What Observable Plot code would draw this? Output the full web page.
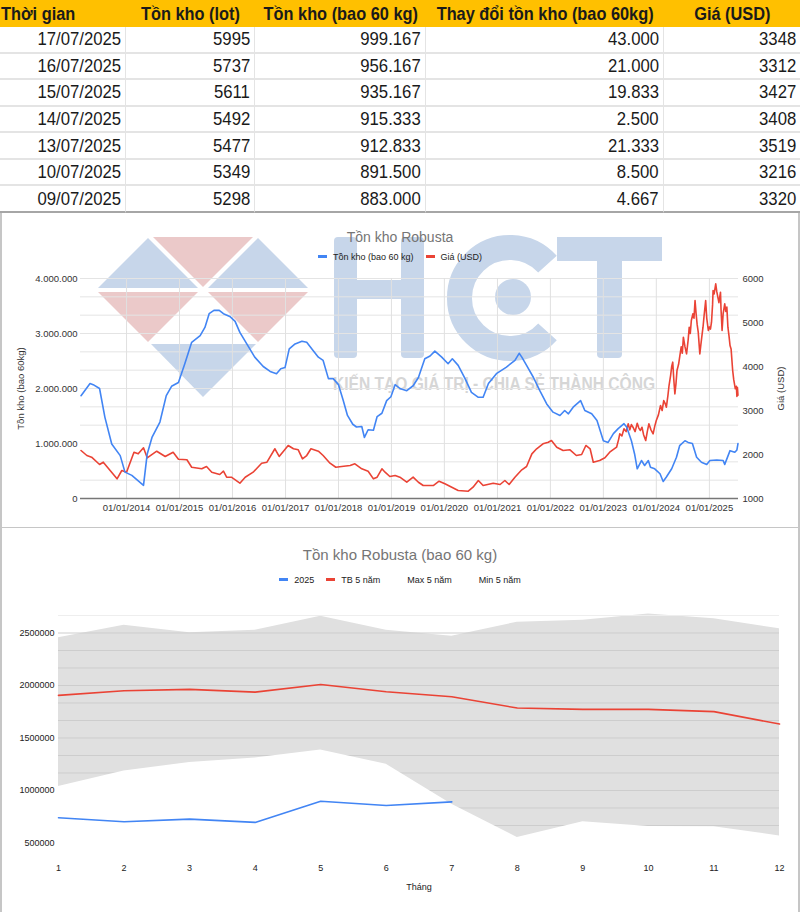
<!DOCTYPE html>
<html lang="vi">
<head>
<meta charset="utf-8">
<script src="https://cdn.jsdelivr.net/npm/d3@7"></script>
<script src="https://cdn.jsdelivr.net/npm/@observablehq/plot@0.6"></script>
<style>
html,body{margin:0;padding:0;background:#fff;}
body{width:800px;height:912px;overflow:hidden;font-family:"Liberation Sans",Arial,sans-serif;}
#tbl{display:grid;grid-template-columns:126px 129px 171px 238px 136px;grid-template-rows:27px repeat(7,26.57px);width:800px;font-family:"Liberation Sans",Arial,sans-serif;font-size:19px;color:#1a1a1a;}
#tbl .th{background:#ffc000;font-weight:bold;display:flex;align-items:center;justify-content:center;white-space:nowrap;overflow:visible;}
#tbl .th span{display:inline-block;transform:scaleX(0.86);transform-origin:center center;}
#tbl .th.first{justify-content:flex-start;padding-left:1px;}
#tbl .th.first span{transform-origin:left center;}
#tbl .td{display:flex;align-items:center;justify-content:flex-end;padding-right:4px;white-space:nowrap;box-sizing:border-box;border-bottom:2px solid #e4e4e4;border-right:1px solid #e4e4e4;}
#tbl .td span{display:inline-block;transform:scaleX(0.88);transform-origin:right center;}
#tbl .td.last{border-bottom:2px solid #a6a6a6;}
.box{position:relative;width:800px;box-shadow:inset 2px 0 0 #c6c6c6, inset -2px 0 0 #c6c6c6;}
#mid{height:315px;box-shadow:inset 2px 0 0 #c6c6c6, inset -2px 0 0 #c6c6c6, inset 0 -1px 0 #c6c6c6;}
#bot{height:384px;}
.ttl{position:absolute;left:0;width:800px;text-align:center;color:#757575;}
.lg{position:absolute;left:0;width:800px;display:flex;justify-content:center;align-items:center;font-size:9px;line-height:12px;color:#222;}
.lg .it{display:flex;align-items:center;margin:0 6px;}
.lg .sw{display:inline-block;width:9px;height:3px;margin-right:6px;}
.layer{position:absolute;left:0;}
</style>
</head>
<body>
<div id="tbl"></div>
<div id="mid" class="box">
  <svg class="layer" id="wm" width="800" height="315" style="top:0"></svg>
  <div class="ttl" style="top:16px;font-size:14px;line-height:16px;">Tồn kho Robusta</div>
  <div class="lg" id="lg1" style="top:38px;"></div>
  <div class="layer" id="plot1" style="top:55px;"></div>
</div>
<div id="bot" class="box">
  <div class="ttl" style="top:18px;font-size:15px;line-height:18px;">Tồn kho Robusta (bao 60 kg)</div>
  <div class="lg" id="lg2" style="top:46px;"></div>
  <div class="layer" id="plot2" style="top:67px;"></div>
</div>
<script>
// ---------- TABLE DATA ----------
const headers = ["Thời gian", "Tồn kho (lot)", "Tồn kho (bao 60 kg)", "Thay đổi tồn kho (bao 60kg)", "Giá (USD)"];
const dates = ["17/07/2025", "16/07/2025", "15/07/2025", "14/07/2025", "13/07/2025", "10/07/2025", "09/07/2025"];
const lots = [5995, 5737, 5611, 5492, 5477, 5349, 5298];
const bags = [999167, 956167, 935167, 915333, 912833, 891500, 883000];
const changes = [43000, 21000, 19833, 2500, 21333, 8500, 4667];
const prices = [3348, 3312, 3427, 3408, 3519, 3216, 3320];

// ---------- CHART 1 DATA (Tồn kho Robusta) ----------
const invYears = [2013.14,2013.31,2013.37,2013.49,2013.59,2013.72,2013.88,2013.97,2014.10,2014.32,2014.39,2014.48,2014.63,2014.75,2014.85,2014.98,
2015.10,2015.23,2015.39,2015.48,2015.56,2015.65,2015.75,2015.83,2015.95,2016.05,2016.14,2016.27,2016.42,2016.58,2016.71,2016.83,2016.91,2016.99,
2017.07,2017.18,2017.31,2017.40,2017.52,2017.62,2017.71,2017.81,2017.90,2018.00,2018.09,2018.17,2018.27,2018.34,2018.44,2018.49,2018.56,2018.66,
2018.73,2018.82,2018.91,2018.99,2019.07,2019.16,2019.29,2019.41,2019.51,2019.63,2019.73,2019.82,2019.95,2020.07,2020.15,2020.26,2020.39,2020.51,
2020.64,2020.73,2020.83,2020.98,2021.17,2021.33,2021.41,2021.46,2021.55,2021.68,2021.80,2021.93,2022.05,2022.18,2022.27,2022.34,2022.43,2022.57,
2022.65,2022.78,2022.88,2023.00,2023.09,2023.19,2023.28,2023.39,2023.44,2023.53,2023.59,2023.64,2023.72,2023.78,2023.85,2023.89,2023.97,2024.07,
2024.13,2024.19,2024.29,2024.38,2024.44,2024.54,2024.60,2024.68,2024.76,2024.85,2024.95,2025.01,2025.14,2025.26,2025.29,2025.39,2025.48,2025.52,2025.54];
const invValues = [1870000,2090000,2070000,2000000,1480000,990000,780000,480000,420000,240000,810000,1110000,1390000,1870000,2040000,2110000,
2450000,2840000,2960000,3110000,3360000,3420000,3420000,3360000,3310000,3220000,3020000,2810000,2570000,2400000,2310000,2270000,2360000,2380000,
2720000,2810000,2860000,2840000,2690000,2570000,2510000,2180000,2180000,2070000,1780000,1510000,1350000,1300000,1310000,1110000,1250000,1240000,
1490000,1550000,1780000,1850000,2070000,2000000,1960000,2050000,2200000,2540000,2590000,2680000,2570000,2450000,2540000,2420000,2180000,1930000,
1840000,1840000,2090000,2270000,2390000,2510000,2640000,2570000,2420000,2200000,1960000,1720000,1570000,1510000,1600000,1540000,1660000,1780000,
1600000,1540000,1420000,1050000,1020000,1180000,1270000,1360000,1300000,1050000,810000,540000,690000,600000,690000,570000,540000,450000,
310000,390000,540000,750000,960000,1050000,1020000,1000000,750000,660000,620000,690000,700000,690000,620000,870000,840000,883000,999167];

const priceYears = [2013.14,2013.25,2013.34,2013.49,2013.56,2013.69,2013.82,2013.91,2014.00,2014.14,2014.22,2014.32,2014.39,2014.57,2014.73,2014.88,2014.98,
2015.14,2015.23,2015.42,2015.51,2015.61,2015.76,2015.83,2015.89,2015.98,2016.14,2016.24,2016.39,2016.55,2016.65,2016.80,2016.88,2017.05,2017.15,2017.24,
2017.32,2017.40,2017.48,2017.62,2017.71,2017.84,2017.95,2018.06,2018.22,2018.31,2018.44,2018.56,2018.66,2018.73,2018.82,2018.88,2018.97,2019.07,2019.16,
2019.29,2019.41,2019.51,2019.60,2019.79,2019.90,2020.01,2020.14,2020.26,2020.45,2020.54,2020.64,2020.73,2020.92,2021.05,2021.14,2021.22,2021.33,2021.46,
2021.55,2021.65,2021.74,2021.86,2021.96,2022.02,2022.12,2022.24,2022.37,2022.49,2022.59,2022.67,2022.75,2022.81,2022.93,2023.03,2023.12,2023.25,
2023.29,2023.31,2023.35,2023.39,2023.43,2023.47,2023.50,2023.53,2023.56,2023.60,2023.64,2023.67,2023.70,2023.73,2023.76,2023.80,2023.83,2023.86,2023.90,
2023.94,2023.97,2024.00,2024.04,2024.08,2024.11,2024.14,2024.17,2024.19,2024.22,2024.24,2024.27,2024.29,2024.31,2024.33,2024.35,2024.37,2024.39,2024.42,
2024.44,2024.47,2024.49,2024.51,2024.54,2024.57,2024.60,2024.62,2024.64,2024.66,2024.69,2024.71,2024.73,2024.75,2024.77,2024.79,2024.82,2024.84,2024.86,
2024.88,2024.90,2024.93,2024.95,2024.98,2025.00,2025.02,2025.04,2025.06,2025.07,2025.09,2025.12,2025.14,2025.16,2025.18,2025.21,2025.22,2025.24,2025.26,
2025.29,2025.31,2025.33,2025.35,2025.37,2025.39,2025.41,2025.44,2025.46,2025.49,2025.51,2025.52,2025.53,2025.54];
const priceValues = [2091,1977,1939,1773,1825,1636,1447,1636,1598,2052,2015,2152,1925,2075,1955,2052,1893,
1880,1711,1675,1727,1598,1545,1620,1484,1484,1348,1484,1598,1802,1825,2130,1955,2205,2130,2107,
1902,1977,2130,2075,1977,1802,1711,1727,1750,1788,1675,1620,1447,1484,1675,1598,1500,1523,1484,
1370,1484,1370,1295,1295,1393,1334,1257,1182,1166,1257,1409,1295,1348,1318,1409,1318,1484,1652,
1727,2015,2130,2243,2280,2318,2166,2091,2107,1977,2000,2205,2130,1825,1864,1925,2052,2166,
2350,2470,2420,2583,2520,2697,2560,2680,2620,2520,2711,2600,2545,2620,2450,2318,2520,2697,2560,
2470,2640,2773,2900,3114,3000,3227,3150,3075,3350,3568,3800,4000,4098,3700,3379,3600,3909,4050,
4211,4450,4300,4666,4450,4288,4600,4893,4750,5045,5200,5100,5500,5200,4950,4780,4288,4500,4700,
4893,5150,5500,5100,4818,4900,4850,5007,5400,5727,5650,5879,5700,5575,5450,5689,5300,4818,5200,
5424,5250,5350,4893,4700,4477,4400,3909,3700,3493,3550,3320,3519,3348];

const yearTickYears = [2014,2015,2016,2017,2018,2019,2020,2021,2022,2023,2024,2025];
const invTicks = [0, 1000000, 2000000, 3000000, 4000000];
const priceTicks = [1000, 2000, 3000, 4000, 5000, 6000];

// ---------- CHART 2 DATA (Tồn kho Robusta (bao 60 kg)) ----------
const months = [1,2,3,4,5,6,7,8,9,10,11,12];
const cur2025 = [740000, 702000, 727000, 696000, 898000, 857000, 892000];
const avg5 = [1906000, 1950000, 1963000, 1937000, 2010000, 1940000, 1893000, 1785000, 1773000, 1773000, 1751000, 1633000];
const max5 = [2454000, 2574000, 2502000, 2527000, 2660000, 2527000, 2470000, 2603000, 2622000, 2680000, 2635000, 2540000];
const min5 = [1038000, 1186000, 1266000, 1310000, 1386000, 1250000, 870000, 553000, 702000, 658000, 654000, 567000];
const y2Ticks = [500000, 1000000, 1500000, 2000000, 2500000];

// ---------- helpers ----------
const fmtDot = d3.formatLocale({decimal: ",", thousands: ".", grouping: [3], currency: ["", ""]}).format(",d");
const toDate = t => { const y = Math.floor(t); const s = Date.UTC(y, 0, 1), e = Date.UTC(y + 1, 0, 1); return new Date(s + (t - y) * (e - s)); };
const P0 = 1000, P1 = 6000, L1 = 4000000;
const toLeft = p => (p - P0) / (P1 - P0) * L1;
const fromLeft = v => Math.round(v / L1 * (P1 - P0) + P0);

// ---------- table ----------
const tbl = document.getElementById("tbl");
function cell(cls, text) {
  const c = document.createElement("div");
  c.className = cls;
  const s = document.createElement("span");
  s.textContent = text;
  c.appendChild(s);
  tbl.appendChild(c);
  return c;
}
headers.forEach((h, i) => cell("th" + (i === 0 ? " first" : ""), h));
dates.forEach((d, r) => {
  [d, String(lots[r]), fmtDot(bags[r]), fmtDot(changes[r]), String(prices[r])].forEach((v, i) => {
    const c = cell("td" + (r === dates.length - 1 ? " last" : ""), v);
    if (i === 4) c.style.borderRight = "none";
  });
});

// ---------- legends ----------
function legend(el, items) {
  const root = document.getElementById(el);
  items.forEach(([label, color]) => {
    const it = document.createElement("span"); it.className = "it";
    const sw = document.createElement("span"); sw.className = "sw"; sw.style.background = color;
    const tx = document.createElement("span"); tx.textContent = label;
    it.appendChild(sw); it.appendChild(tx); root.appendChild(it);
  });
}
legend("lg1", [["Tồn kho (bao 60 kg)", "#4285f4"], ["Giá (USD)", "#ea4335"]]);
legend("lg2", [["2025", "#4285f4"], ["TB 5 năm", "#ea4335"], ["Max 5 năm", "transparent"], ["Min 5 năm", "transparent"]]);

// ---------- watermark (decoration) ----------
document.getElementById("wm").innerHTML = `
  <g fill="#c7d6ea">
    <polygon points="98,75 198,75 148,25"/>
    <polygon points="208,75 308,75 258,25"/>
    <polygon points="151,131 256,131 203,184"/>
    <rect x="334" y="24" width="23" height="121" rx="4"/>
    <rect x="401" y="24" width="23" height="121" rx="4"/>
    <rect x="355" y="67" width="48" height="19"/>
    <path d="M547.5,51.2 A50.5,50.5 0 1 0 547.5,118.8" fill="none" stroke="#c7d6ea" stroke-width="25"/>
    <circle cx="513" cy="84" r="18"/>
    <rect x="557" y="24" width="105" height="24"/>
    <rect x="597" y="24" width="25" height="121" rx="4"/>
  </g>
  <g fill="#ebc9c9">
    <polygon points="153,24 253,24 203,74"/>
    <polygon points="98,79 198,79 148,129"/>
    <polygon points="208,79 308,79 258,129"/>
  </g>
  <text x="333" y="177" font-family="Liberation Sans, Arial, sans-serif" font-size="18" font-weight="bold" fill="#d6d6d6" textLength="322" lengthAdjust="spacingAndGlyphs">KIẾN TẠO GIÁ TRỊ - CHIA SẺ THÀNH CÔNG</text>`;

// ---------- chart 1 ----------
const inv = invYears.map((t, i) => ({date: toDate(t), v: invValues[i]}));
const pr = priceYears.map((t, i) => ({date: toDate(t), v: toLeft(priceValues[i])}));
const yearTicks = yearTickYears.map(y => new Date(Date.UTC(y, 0, 1)));

const chart1 = Plot.plot({
  width: 800, height: 260,
  marginTop: 10, marginBottom: 30, marginLeft: 80, marginRight: 62,
  style: {background: "transparent", fontFamily: '"Liberation Sans", Arial, sans-serif', fontSize: "9.5px", color: "#333", overflow: "visible"},
  x: {type: "utc", domain: [toDate(2013.13), toDate(2025.55)]},
  y: {domain: [0, L1]},
  marks: [
    Plot.ruleY(d3.range(1, 13).map(i => i * L1 / 12), {stroke: "#e4e4e4"}),
    Plot.ruleX(yearTicks, {stroke: "#e0e0e0"}),
    Plot.line(pr, {x: "date", y: "v", stroke: "#ea4335", strokeWidth: 1.6}),
    Plot.line(inv, {x: "date", y: "v", stroke: "#4285f4", strokeWidth: 1.6}),
    Plot.ruleY([0], {stroke: "#777", strokeWidth: 1.3}),
    Plot.axisX({ticks: yearTicks, tickFormat: d3.utcFormat("%d/%m/%Y"), tickSize: 0, tickPadding: 6, label: null}),
    Plot.axisY({ticks: invTicks, tickFormat: fmtDot, tickSize: 0, tickPadding: 3, label: null}),
    Plot.axisY({anchor: "right", ticks: priceTicks.map(toLeft), tickFormat: d => String(fromLeft(d)), tickSize: 0, tickPadding: 4, label: null}),
    Plot.text(["Tồn kho (bao 60kg)"], {frameAnchor: "left", rotate: -90, dx: -60, textAnchor: "middle", fill: "#333"}),
    Plot.text(["Giá (USD)"], {frameAnchor: "right", rotate: -90, dx: 42, textAnchor: "middle", fill: "#333"})
  ]
});
document.getElementById("plot1").appendChild(chart1);

// ---------- chart 2 ----------
const yMin2 = 333333, yMax2 = 2666667;
const maxData = months.map((m, i) => ({m, v: max5[i]}));
const minData = months.map((m, i) => ({m, v: min5[i]}));
const avgData = months.map((m, i) => ({m, v: avg5[i]}));
const curData = cur2025.map((v, i) => ({m: months[i], v}));
const grid2 = d3.range(1, 14).map(i => yMin2 + i * (yMax2 - yMin2) / 14);

const chart2 = Plot.plot({
  width: 800, height: 317,
  marginTop: 20, marginBottom: 52, marginLeft: 58, marginRight: 21,
  style: {background: "transparent", fontFamily: '"Liberation Sans", Arial, sans-serif', fontSize: "9px", color: "#222", overflow: "visible"},
  x: {domain: [1, 12]},
  y: {domain: [yMin2, yMax2]},
  marks: [
    Plot.areaY(maxData, {x: "m", y1: yMin2, y2: "v", fill: "#e0e0e0"}),
    Plot.ruleY(grid2, {stroke: "#cdcdcd"}),
    Plot.ruleY([yMax2], {stroke: "#eeeeee"}),
    Plot.areaY(minData, {x: "m", y1: yMin2, y2: "v", fill: "#ffffff"}),
    Plot.line(avgData, {x: "m", y: "v", stroke: "#ea4335", strokeWidth: 1.6}),
    Plot.line(curData, {x: "m", y: "v", stroke: "#4285f4", strokeWidth: 1.6}),
    Plot.axisX({ticks: months, tickFormat: d => String(d), tickSize: 0, tickPadding: 4, label: null}),
    Plot.axisY({ticks: y2Ticks, tickFormat: d3.format("d"), tickSize: 0, tickPadding: 4, label: null}),
    Plot.text(["Tháng"], {frameAnchor: "bottom", dy: 29, fill: "#222"})
  ]
});
document.getElementById("plot2").appendChild(chart2);
</script>
</body>
</html>
